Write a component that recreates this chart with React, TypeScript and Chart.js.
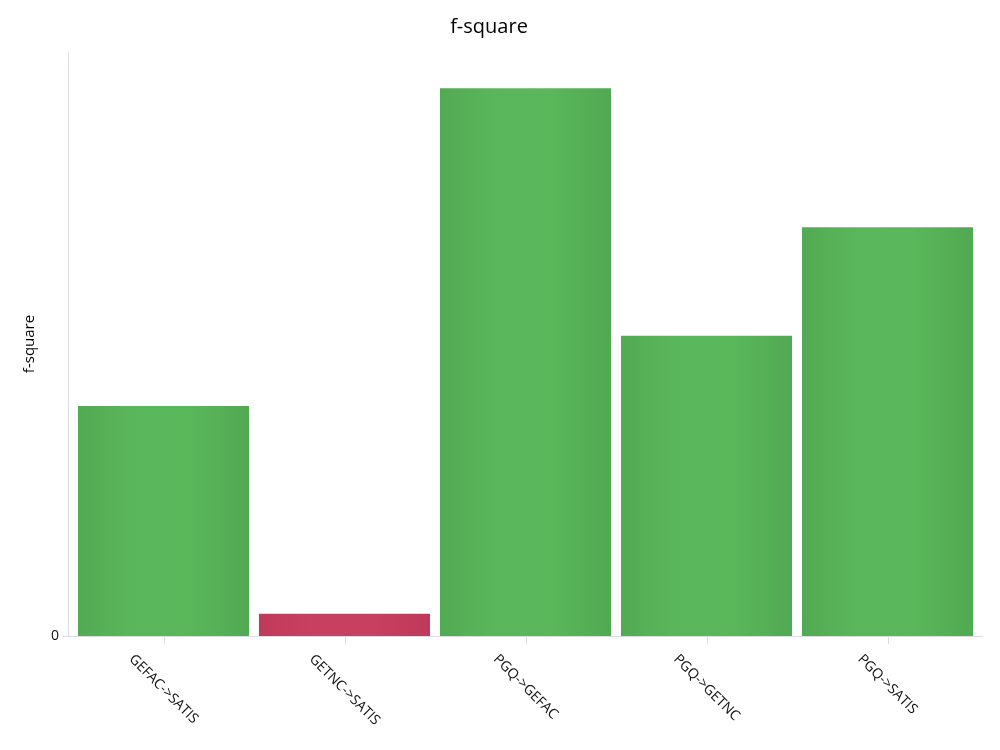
import React, { useEffect, useRef } from "react";
import { Chart, registerables } from "chart.js";

Chart.register(...registerables);

const categories = ["GEFAC->SATIS", "GETNC->SATIS", "PGQ->GEFAC", "PGQ->GETNC", "PGQ->SATIS"];
const fSquare = [0.394, 0.038, 0.938, 0.514, 0.7];
const barKinds = ["green", "red", "green", "green", "green"];
const yMax = 1;

const FONT = "'Open Sans', 'Noto Sans', sans-serif";
const BAR_PCT = 0.945;

const gradientStops: Record<string, string[]> = {
  green: ["#52aa52", "#5ab65a", "#5ab75a", "#51a951"],
  red: ["#c03a5a", "#c8405f", "#c8405f", "#bf395a"],
};

function barColor(c: any) {
  const chart = c.chart;
  const kind = barKinds[c.dataIndex] || "green";
  const stops = gradientStops[kind];
  const xs = chart.scales && chart.scales.x;
  if (!xs || !chart.chartArea || c.dataIndex === undefined) return stops[1];
  const x = xs.getPixelForValue(c.dataIndex);
  const half = ((xs.width / categories.length) * BAR_PCT) / 2;
  const g = chart.ctx.createLinearGradient(x - half, 0, x + half, 0);
  g.addColorStop(0, stops[0]);
  g.addColorStop(0.3, stops[1]);
  g.addColorStop(0.65, stops[2]);
  g.addColorStop(1, stops[3]);
  return g;
}

const axesPlugin = {
  id: "customAxes",
  afterDraw(chart: any) {
    const ctx = chart.ctx;
    const { left, right, top, bottom } = chart.chartArea;
    ctx.save();
    ctx.strokeStyle = "#dcdce4";
    ctx.lineWidth = 1;
    ctx.beginPath();
    ctx.moveTo(left - 4.5, top);
    ctx.lineTo(left - 4.5, bottom + 0.5);
    ctx.moveTo(left - 10, bottom + 0.5);
    ctx.lineTo(right + 5, bottom + 0.5);
    ctx.stroke();
    const xs = chart.scales.x;
    ctx.beginPath();
    categories.forEach((_, i) => {
      const x = Math.round(xs.getPixelForTick(i)) + 0.5;
      ctx.moveTo(x, bottom);
      ctx.lineTo(x, bottom + 8);
    });
    ctx.stroke();
    ctx.fillStyle = "#111";
    ctx.font = `14px ${FONT}`;
    ctx.textAlign = "center";
    ctx.textBaseline = "middle";
    categories.forEach((label, i) => {
      const x = xs.getPixelForTick(i);
      const w = ctx.measureText(label).width;
      const cy = bottom + 16 + (w / 2 + 7) * Math.SQRT1_2;
      ctx.save();
      ctx.translate(x, cy);
      ctx.rotate(Math.PI / 4);
      ctx.fillText(label, 0, 0);
      ctx.restore();
    });
    const ys = chart.scales.y;
    ctx.textAlign = "right";
    ctx.fillText("0", left - 14, ys.getPixelForValue(0));
    ctx.restore();
  },
};

export default function App() {
  const ref = useRef<HTMLCanvasElement | null>(null);
  useEffect(() => {
    if (!ref.current) return;
    const chart = new Chart(ref.current, {
      type: "bar",
      data: {
        labels: categories,
        datasets: [
          {
            data: fSquare,
            backgroundColor: barColor,
            barPercentage: BAR_PCT,
            categoryPercentage: 1,
          },
        ],
      },
      options: {
        animation: false,
        responsive: false,
        layout: { padding: { right: 22 } },
        plugins: {
          legend: { display: false },
          tooltip: { enabled: false },
          title: {
            display: true,
            text: "f-square",
            color: "#000",
            font: { family: FONT, size: 20, weight: "normal" },
            padding: { top: 15, bottom: 13 },
          },
        },
        scales: {
          x: {
            grid: { display: false },
            border: { display: false },
            ticks: { display: false },
            afterFit(scale: any) {
              scale.height = 114;
            },
          },
          y: {
            min: 0,
            max: yMax,
            grid: { display: false },
            border: { display: false },
            ticks: { display: false },
            title: {
              display: true,
              text: "f-square",
              color: "#000",
              font: { family: FONT, size: 15 },
              padding: { top: 21, bottom: 0 },
            },
            afterFit(scale: any) {
              scale.width = 73;
            },
          },
        },
      },
      plugins: [axesPlugin],
    });
    return () => chart.destroy();
  }, []);
  return (
    <div style={{ position: "fixed", left: 0, top: 0, width: 1000, height: 750, background: "#fff" }}>
      <canvas ref={ref} width={1000} height={750} style={{ width: 1000, height: 750 }} />
    </div>
  );
}
